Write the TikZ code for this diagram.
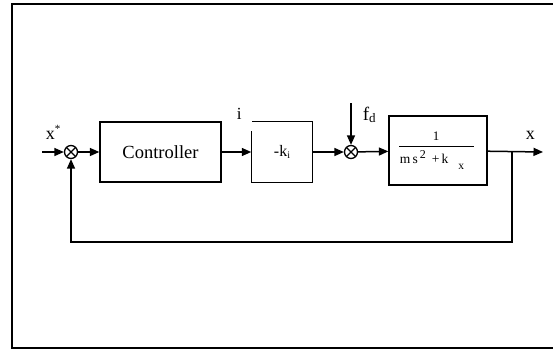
\documentclass[tikz,border=0pt]{standalone}
\usepackage{fontspec}
\setmainfont{Liberation Serif}
\usetikzlibrary{arrows.meta}
\begin{document}
\begin{tikzpicture}[x=1pt,y=-1pt,
  line width=1.5pt,
  conn/.style={-{Triangle[length=9.5pt,width=8pt]}},
  blk/.style={draw, line width=1.3pt, rectangle, inner sep=0pt},
  sumnode/.style={circle, draw, line width=1.3pt, minimum size=13pt, inner sep=0pt,
    path picture={\draw[line width=1.2pt] (path picture bounding box.north west) -- (path picture bounding box.south east)
      (path picture bounding box.south west) -- (path picture bounding box.north east);}},
  lbl/.style={inner sep=0pt, anchor=base west}]
\useasboundingbox (0,0) rectangle (553,351);
\draw[line width=2pt] (553,4) -- (12,4) -- (12,348) -- (553,348);

% blocks
\node[blk, minimum width=121pt, minimum height=60pt] (ctrl) at (160.5,152) {\fontsize{18.5}{20}\selectfont Controller};
\node[rectangle, minimum width=60pt, minimum height=60pt, inner sep=0pt] (ki) at (282,152)
  {\fontsize{16}{16}\selectfont -k\raisebox{-2pt}{\fontsize{10}{10}\selectfont i}};
\draw[line width=1.3pt] ([xshift=1pt]ki.north west) -- (ki.north east) -- (ki.south east) -- (ki.south west) -- ([yshift=-10pt]ki.north west);
\node[blk, minimum width=98pt, minimum height=69pt] (plant) at (438,150.5) {};
\node[inner sep=0pt, anchor=base] (num) at (436,140) {\fontsize{13}{13}\selectfont 1};
\draw[line width=0.9pt] (399,146) -- (474,146);
\node[inner sep=0pt, anchor=base west] (den) at (399,163)
  {\fontsize{13.5}{14}\selectfont m\,s\hspace{2pt}\raisebox{5pt}{\fontsize{12}{12}\selectfont 2}\hspace{6pt}+\,k\hspace{10pt}\raisebox{-6pt}{\fontsize{11.5}{11.5}\selectfont x}};

% summing junctions
\node[sumnode] (s1) at (71,152) {};
\node[sumnode] (s2) at (351,152) {};

% free ends
\coordinate (in) at (42,152);
\coordinate (fd) at (351,103);
\coordinate (out) at (543,152);
\coordinate (br) at (512,152);
\coordinate (fb) at (71,242);

% connectors
\draw[conn] (in) -- (s1);
\draw[conn] (s1) -- (ctrl);
\draw[conn] (ctrl) -- (ki);
\draw[conn] (ki) -- (s2);
\draw[conn] (fd) -- (s2);
\draw[conn] (s2) -- (plant);
\draw[conn] (plant) -- (out);
\draw[conn] (br) |- (fb) -- (s1);

% labels
\node[lbl] (xstar) at (45,139) {\fontsize{18}{18}\selectfont x\raisebox{7pt}{\fontsize{11}{11}\selectfont *}};
\node[lbl] (ilbl) at (236,119) {\fontsize{17}{17}\selectfont i};
\node[lbl] (fdlbl) at (362,120) {\fontsize{19}{19}\selectfont f\raisebox{-2pt}{\fontsize{13}{13}\selectfont d}};
\node[lbl] (xout) at (525,139) {\fontsize{18}{18}\selectfont x};
\end{tikzpicture}
\end{document}
